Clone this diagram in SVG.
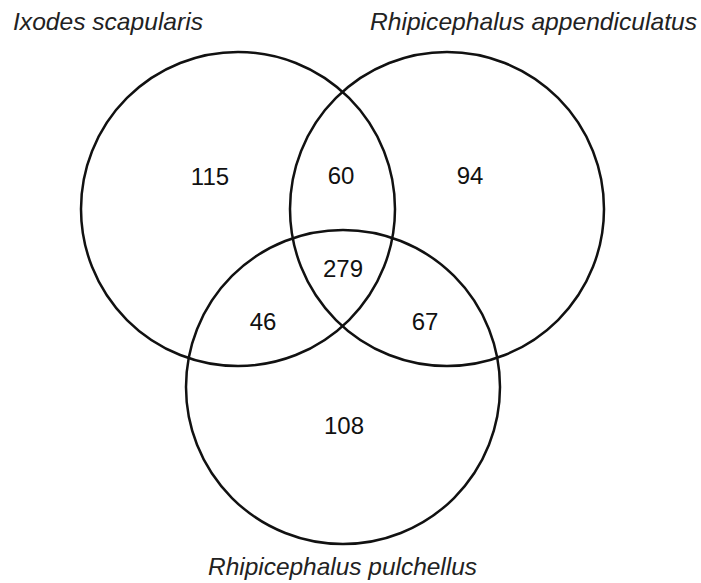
<svg xmlns="http://www.w3.org/2000/svg" width="701" height="583" viewBox="0 0 701 583">
<style>
.c{fill:none;stroke:#111;stroke-width:2.5}
.lab{font-family:"Liberation Sans",Arial,sans-serif;font-style:italic;font-size:24px;fill:#222}
.num{font-family:"Liberation Sans",Arial,sans-serif;font-size:24px;fill:#111;text-anchor:middle}
</style>
<rect width="701" height="583" fill="#fff"/>
<g id="set-ixodes">
<circle class="c" cx="238" cy="209" r="157"/>
<text class="lab" x="13" y="30" textLength="190" lengthAdjust="spacingAndGlyphs">Ixodes scapularis</text>
</g>
<g id="set-appendiculatus">
<circle class="c" cx="447" cy="209" r="157"/>
<text class="lab" x="370" y="30" textLength="327" lengthAdjust="spacingAndGlyphs">Rhipicephalus appendiculatus</text>
</g>
<g id="set-pulchellus">
<circle class="c" cx="343" cy="387" r="157"/>
<text class="lab" x="208" y="575" textLength="269" lengthAdjust="spacingAndGlyphs">Rhipicephalus pulchellus</text>
</g>
<g id="counts">
<text class="num" x="210" y="185">115</text>
<text class="num" x="341" y="184">60</text>
<text class="num" x="470" y="184">94</text>
<text class="num" x="343" y="277">279</text>
<text class="num" x="263" y="330">46</text>
<text class="num" x="425" y="330">67</text>
<text class="num" x="344" y="434">108</text>
</g>
</svg>
